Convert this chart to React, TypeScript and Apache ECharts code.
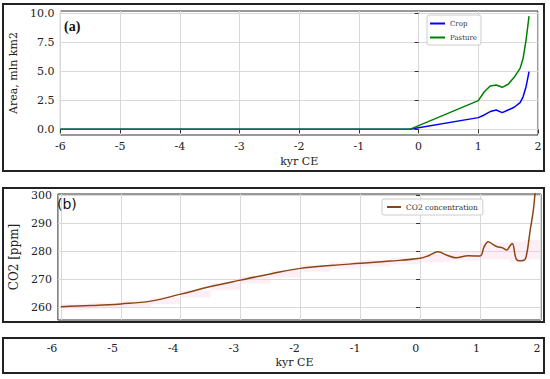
import React, { useEffect, useRef } from "react";
import * as echarts from "echarts";

// Panel (a): land use area, mln km2
const landX = [-6, -0.15, 1.0, 1.1, 1.2, 1.3, 1.4, 1.5, 1.6, 1.7, 1.75, 1.8, 1.85];
const cropArea = [0, 0, 1.01, 1.24, 1.53, 1.67, 1.44, 1.67, 1.9, 2.3, 2.8, 3.67, 4.96];
const pastureArea = [0, 0, 2.47, 3.24, 3.73, 3.82, 3.62, 3.88, 4.48, 5.25, 6.1, 7.68, 9.74];
const areaTicks = [0, 2.5, 5, 7.5, 10];

// Panel (b): CO2 concentration, ppm
const co2X = [-6, -5.5, -5, -4.5, -4, -3.5, -3, -2.5, -2, -1.5, -1, -0.5, 0, 0.15, 0.3, 0.45, 0.6, 0.8, 1.0, 1.07, 1.14, 1.22, 1.29, 1.37, 1.45, 1.5, 1.54, 1.6, 1.65, 1.72, 1.77, 1.84, 1.9, 1.95];
const co2 = [260.1, 260.5, 261.1, 262.1, 264.6, 267.3, 269.6, 271.8, 273.8, 274.8, 275.6, 276.4, 277.4, 278.4, 279.7, 278.5, 277.6, 278.3, 278.2, 281.5, 283.3, 282.3, 281.5, 281.2, 280.4, 281.8, 282.7, 277.5, 276.5, 276.6, 277.8, 287.5, 296, 310];
// uncertainty band (step blocks): start, end, low, high
const bandStart = [-6, -5.5, -5, -4.5, -4, -3.5, -3, -2.5, -2, -1.5, -1, -0.5, 0, 0.5, 1, 1.5, 1.75];
const bandEnd = [-5.5, -5, -4.5, -4, -3.5, -3, -2.5, -2, -1.5, -1, -0.5, 0, 0.5, 1, 1.5, 1.75, 2];
const bandLow = [259.0, 259.4, 260.0, 261.0, 263.3, 266.0, 268.3, 270.5, 272.6, 273.6, 274.4, 275.2, 276.0, 276.6, 277.0, 276.0, 277.0];
const bandHigh = [261.2, 261.6, 262.3, 263.4, 266.0, 268.6, 271.0, 273.1, 275.0, 276.0, 276.8, 277.6, 279.0, 279.6, 283.0, 283.5, 284.0];
const co2Ticks = [260, 270, 280, 290, 300];

const timeTicks = [-6, -5, -4, -3, -2, -1, 0, 1, 2];

const FONT = "DejaVu Serif";

export default function App() {
  const ref = useRef<HTMLDivElement>(null);

  useEffect(() => {
    document.body.style.margin = "0";
    const chart = echarts.init(ref.current!, null, { renderer: "svg" });
    const zip = (xs: number[], ys: number[]) => xs.map((x, i) => [x, ys[i]]);
    const bandData = bandStart.map((s, i) => [s, bandEnd[i], bandLow[i], bandHigh[i]]);

    const labelStyle = { fontFamily: FONT, fontSize: 11, color: "#222" };
    const gridLine = { show: true, lineStyle: { color: "#d9d9d9", width: 1 } };

    chart.setOption({
      animation: false,
      backgroundColor: "#fff",
      textStyle: { fontFamily: FONT },
      grid: [
        { left: 52, top: 11, width: 486, height: 124, show: true, borderColor: "#333", borderWidth: 1, backgroundColor: "transparent" },
        { left: 49, top: 194, width: 492, height: 126, show: true, borderColor: "#333", borderWidth: 1, backgroundColor: "transparent" },
        { left: 52, top: 339, width: 485, height: 1, show: false },
      ],
      xAxis: [
        {
          gridIndex: 0, type: "value", min: -6, max: 2, interval: 1,
          axisLine: { show: false },
          axisTick: { show: true, length: 4, lineStyle: { color: "#333" } },
          axisLabel: { ...labelStyle, margin: 6 },
          splitLine: gridLine,
          name: "kyr CE", nameLocation: "middle", nameGap: 21,
          nameTextStyle: { fontFamily: FONT, fontSize: 11, color: "#222" },
        },
        {
          gridIndex: 1, type: "value", min: -6.05, max: 2.02,
          axisLine: { show: false },
          axisTick: { show: false, customValues: timeTicks },
          axisLabel: { show: false, customValues: timeTicks },
          splitLine: gridLine,
        },
        {
          gridIndex: 2, type: "value", min: -6, max: 2, interval: 1,
          axisLine: { show: false },
          axisTick: { show: false },
          axisLabel: { ...labelStyle, margin: 3 },
          splitLine: { show: false },
          name: "kyr CE", nameLocation: "middle", nameGap: 17,
          nameTextStyle: { fontFamily: FONT, fontSize: 11, color: "#222" },
        },
      ],
      yAxis: [
        {
          gridIndex: 0, type: "value", min: -0.485, max: 10.185,
          axisLine: { show: false },
          axisTick: { show: true, length: 4, lineStyle: { color: "#333" }, customValues: areaTicks },
          axisLabel: { ...labelStyle, margin: 6, customValues: areaTicks, formatter: (v: number) => v.toFixed(1) },
          splitLine: gridLine,
          name: "Area, mln km2", nameLocation: "middle", nameGap: 36, nameRotate: 90,
          nameTextStyle: { fontFamily: FONT, fontSize: 11, color: "#222" },
        },
        {
          gridIndex: 1, type: "value", min: 255.36, max: 300.36,
          axisLine: { show: false },
          axisTick: { show: true, length: 4, lineStyle: { color: "#333" }, customValues: co2Ticks },
          axisLabel: { ...labelStyle, margin: 6, customValues: co2Ticks },
          splitLine: gridLine,
          name: "CO2 [ppm]", nameLocation: "middle", nameGap: 33, nameRotate: 90,
          nameTextStyle: { fontFamily: FONT, fontSize: 12, color: "#222" },
        },
        {
          gridIndex: 2, type: "value", show: false,
        },
      ],
      legend: [
        {
          data: ["Crop", "Pasture"], left: 427, top: 15, orient: "vertical",
          itemWidth: 15, itemHeight: 2, itemGap: 7, icon: "rect",
          padding: [5, 4, 4, 3], borderColor: "#ccc", borderWidth: 1, borderRadius: 2,
          backgroundColor: "rgba(255,255,255,0.85)",
          textStyle: { fontFamily: FONT, fontSize: 7, color: "#333" },
        },
        {
          data: ["CO2 concentration"], left: 382, top: 199, orient: "vertical",
          itemWidth: 14, itemHeight: 2, icon: "rect",
          padding: [4, 5, 4, 5], borderColor: "#ccc", borderWidth: 1, borderRadius: 2,
          backgroundColor: "rgba(255,255,255,0.85)",
          textStyle: { fontFamily: FONT, fontSize: 7.5, color: "#333" },
        },
      ],
      series: [
        {
          name: "Crop", type: "line", xAxisIndex: 0, yAxisIndex: 0,
          data: zip(landX, cropArea), showSymbol: false, color: "#0000ff",
          lineStyle: { width: 1.5 }, z: 3,
        },
        {
          name: "Pasture", type: "line", xAxisIndex: 0, yAxisIndex: 0,
          data: zip(landX, pastureArea), showSymbol: false, color: "#008000",
          lineStyle: { width: 1.5 }, z: 4,
        },
        {
          name: "band", type: "custom", xAxisIndex: 1, yAxisIndex: 1,
          data: bandData, silent: true, z: 1, clip: true,
          encode: { x: [0, 1], y: [2, 3] },
          renderItem: (params: any, api: any) => {
            const p0 = api.coord([api.value(0), api.value(3)]);
            const p1 = api.coord([api.value(1), api.value(2)]);
            const cs = params.coordSys;
            const x0 = Math.max(p0[0], cs.x);
            const x1 = Math.min(p1[0], cs.x + cs.width);
            const y0 = Math.max(p0[1], cs.y);
            const y1 = Math.min(p1[1], cs.y + cs.height);
            return {
              type: "rect",
              shape: { x: x0, y: y0, width: x1 - x0, height: y1 - y0 },
              style: { fill: "rgba(252,205,228,0.32)" },
            };
          },
        },
        {
          name: "CO2 concentration", type: "line", xAxisIndex: 1, yAxisIndex: 1,
          data: zip(co2X, co2), showSymbol: false, smooth: 0.4, color: "#8b4513",
          lineStyle: { width: 1.5 }, z: 3,
        },
      ],
      graphic: [
        { type: "rect", shape: { x: 3, y: 4, width: 541, height: 167 }, style: { fill: "none", stroke: "#222", lineWidth: 2 }, z: 10 },
        { type: "rect", shape: { x: 3, y: 188, width: 541, height: 134 }, style: { fill: "none", stroke: "#222", lineWidth: 2 }, z: 10 },
        { type: "rect", shape: { x: 3, y: 338, width: 541, height: 35 }, style: { fill: "none", stroke: "#222", lineWidth: 2 }, z: 10 },
        { type: "text", x: 64, y: 19, style: { text: "(a)", font: "bold 14px 'Liberation Serif'", fill: "#111" }, z: 10 },
        { type: "text", x: 57, y: 197, style: { text: "(b)", font: "14px 'DejaVu Sans'", fill: "#111" }, z: 10 },
      ],
    });
    return () => chart.dispose();
  }, []);

  return <div ref={ref} style={{ width: 550, height: 379 }} />;
}
